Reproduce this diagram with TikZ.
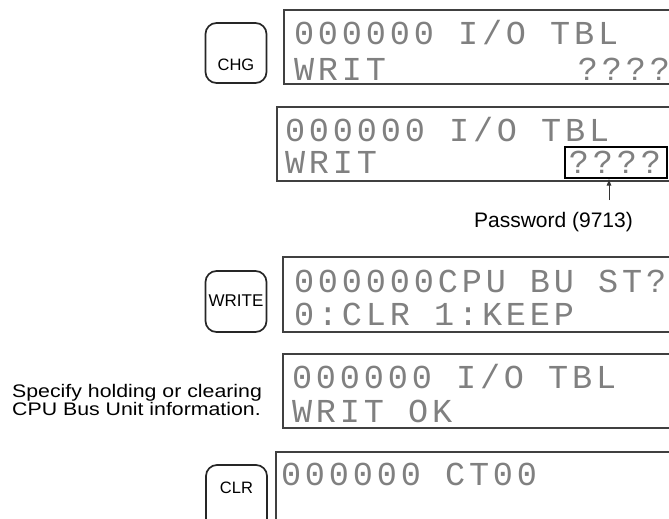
\documentclass[tikz,border=0pt]{standalone}
\usepackage{fontspec}
\setmainfont{Liberation Sans}
\newfontfamily\lcdfont[LetterSpace=11.6, WordSpace=1.0]{Liberation Mono}
\newfontfamily\notefont[FakeStretch=1.17]{Liberation Sans}
\usetikzlibrary{arrows.meta}
\begin{document}
\begin{tikzpicture}[x=1pt,y=-1pt,
  keybox/.style={draw=black!85, line width=1.7pt, rounded corners=11pt, minimum width=61pt, inner sep=0pt},
  display/.style={draw=black!75, line width=1.1pt, inner sep=0pt},
  lcd/.style={anchor=base west, inner sep=0pt, outer sep=0pt, font=\lcdfont\fontsize{33.5}{33.5}\selectfont, text=black!50},
  keylabel/.style={inner sep=0pt, font=\fontsize{16.5}{16.5}\selectfont},
]
\useasboundingbox (0,0) rectangle (669,519);
\clip (0,0) rectangle (669,519);

% keys
\node[keybox, minimum height=60pt] (chg) at (236,53) {};
\node[keylabel] (chgl) at (236,65) {CHG};
\node[keybox, minimum height=61pt] (write) at (236,301.5) {};
\node[keylabel, font=\fontsize{17}{17}\selectfont] (writel) at (236,301) {WRITE};
\node[keybox, minimum height=66pt] (clr) at (236.5,498) {};
\node[keylabel] (clrl) at (236.5,487.5) {CLR};

% displays
\node[display, minimum width=440pt, minimum height=74pt] (d1) at (504,47) {};
\node[display, minimum width=440pt, minimum height=74pt] (d2) at (497,144) {};
\node[display, minimum width=440pt, minimum height=75pt] (d3) at (503,294.5) {};
\node[display, minimum width=440pt, minimum height=74pt] (d4) at (503,391) {};
\node[display, minimum width=440pt, minimum height=80pt] (d5) at (496,492) {};

% display texts
\node[lcd] (d1a) at (294,45) {000000 I/O TBL};
\node[lcd] (d1b) at (294,81) {WRIT~~~~~~~~????};
\node[lcd] (d2a) at (285,141) {000000 I/O TBL};
\node[lcd] (d2b) at (285,173) {WRIT~~~~~~~~????};
\node[lcd] (d3a) at (294,292) {000000CPU BU ST?};
\node[lcd] (d3b) at (294,325) {0:CLR 1:KEEP};
\node[lcd] (d4a) at (292,388) {000000 I/O TBL};
\node[lcd] (d4b) at (292,422) {WRIT OK};
\node[lcd] (d5a) at (281,485) {000000 CT00};

% password marker
\node[draw, line width=1.2pt, minimum width=102pt, minimum height=31pt, inner sep=0pt] (pwbox) at (616,162.5) {};
\node[inner sep=0pt, anchor=base, font=\fontsize{21}{21}\selectfont] (pw) at (553.5,227) {Password (9713)};
\coordinate (pwtail) at (609,200);
\draw[-{Latex[length=7pt,width=5pt]}, line width=0.9pt, black!80] (pwtail) -- (pwtail |- pwbox.south);

% note
\node[anchor=north west, align=left, inner sep=0pt, font=\notefont\fontsize{18.2}{17.2}\selectfont] (note) at (12,384.5) {Specify holding or clearing\\CPU Bus Unit information.};
\end{tikzpicture}
\end{document}
